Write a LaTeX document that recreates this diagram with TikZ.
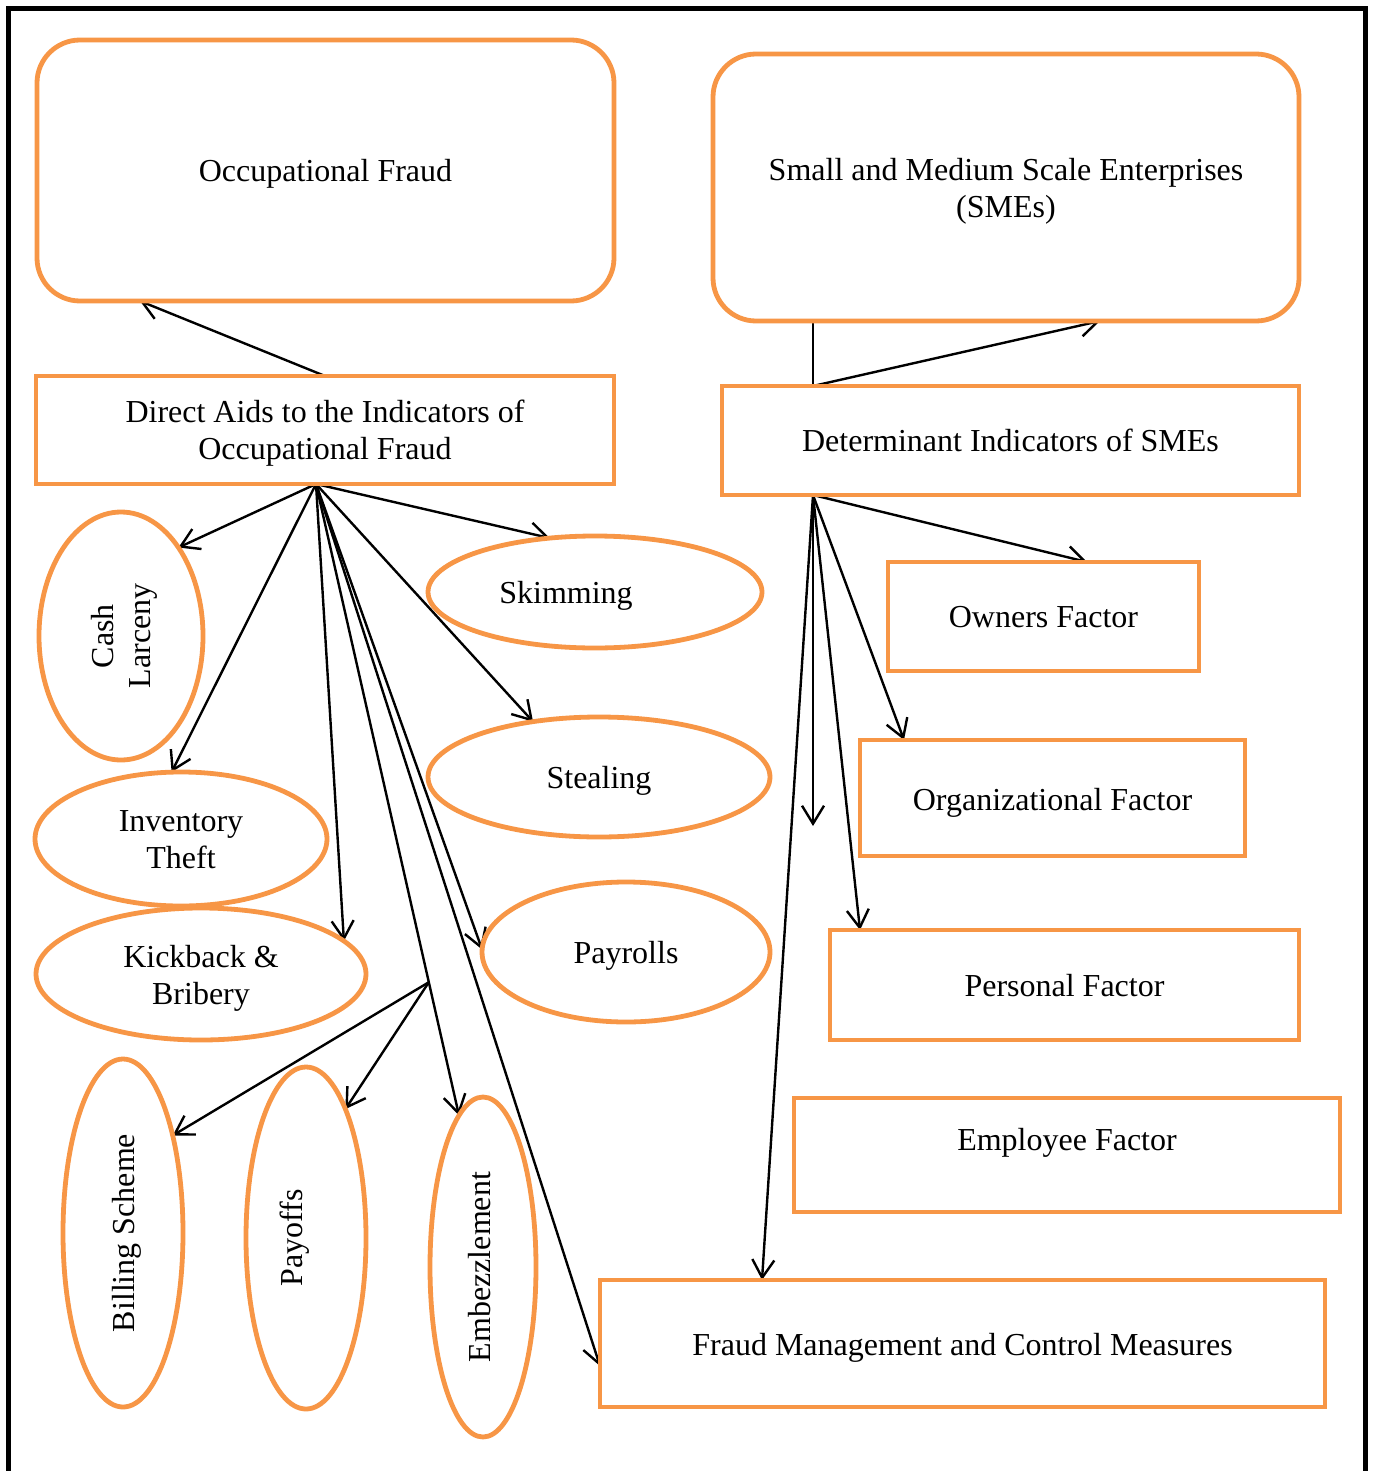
\documentclass[tikz,border=0pt]{standalone}
\usepackage{fontspec}
\setmainfont{Liberation Serif}
\usetikzlibrary{shapes.geometric,arrows.meta,calc}
\definecolor{frorange}{HTML}{F79646}
\pgfdeclarelayer{bg}
\pgfsetlayers{bg,main}
\newcommand\tx[2][-2pt]{\raisebox{#1}[\height][\depth]{\begin{tabular}{@{}c@{}}#2\end{tabular}}}
\begin{document}
\begin{tikzpicture}[x=0.5pt,y=-0.5pt,
  font=\fontsize{16}{18.5}\selectfont,
  box/.style={draw=frorange, line width=2.4pt, fill=white, rectangle, inner sep=2pt, outer sep=0pt},
  rbox/.style={box, rounded corners=21.5pt},
  ell/.style={draw=frorange, line width=2.4pt, fill=white, ellipse, inner sep=0pt, outer sep=0pt},
  arr/.style={draw=black, line width=1.2pt, -{Straight Barb[length=9pt,width=11pt]}},
  ln/.style={draw=black, line width=1.2pt}]
\useasboundingbox (0,0) rectangle (1372,1471);
% page frame
\draw[line width=2.5pt, line join=miter] (8,1471) -- (8,8.5) -- (1365.5,8.5) -- (1365.5,1471);

% top boxes
\node[rbox, minimum width=288.5pt, minimum height=130.5pt] (occ) at (325.5,170.5) {\tx{Occupational Fraud}};
\node[rbox, minimum width=293pt, minimum height=133.5pt] (sme) at (1006,187.5) {\tx{Small and Medium Scale Enterprises\\(SMEs)}};
\node[box, minimum width=289pt, minimum height=54pt] (direct) at (325,430) {\tx{Direct Aids to the Indicators of\\Occupational Fraud}};
\node[box, minimum width=288.5pt, minimum height=54.5pt] (det) at (1010.5,440.5) {\tx{Determinant Indicators of SMEs}};

% ellipses
\node[ell, minimum width=82pt, minimum height=124pt] (cash) at (121,636) {\rotatebox{90}{\tx{Cash\\Larceny}}};
\node[ell, minimum width=167pt, minimum height=56pt] (skim) at (595,592) {\tx{Skimming\hspace*{29pt}}};
\node[ell, minimum width=171pt, minimum height=60pt] (steal) at (599,777) {\tx{Stealing}};
\node[ell, minimum width=146pt, minimum height=67pt] (inv) at (181,839) {\tx{Inventory\\Theft}};
\node[ell, minimum width=165pt, minimum height=66pt] (kick) at (201,974) {\tx[-2.5pt]{Kickback \&\\Bribery}};
\node[ell, minimum width=144pt, minimum height=70pt] (pay) at (626,952) {\tx{Payrolls}};
\node[ell, minimum width=60pt, minimum height=174pt] (bill) at (123,1233) {\rotatebox{90}{\tx{Billing Scheme}}};
\node[ell, minimum width=60pt, minimum height=171pt] (payoffs) at (306,1238) {\rotatebox{90}{\tx[5.5pt]{Payoffs}}};
\node[ell, minimum width=53pt, minimum height=170pt] (emb) at (483,1267) {\rotatebox{90}{\tx[0pt]{Embezzlement}}};

% factor boxes
\node[box, minimum width=155.5pt, minimum height=54.5pt] (own) at (1043.5,616.5) {\tx{Owners Factor}};
\node[box, minimum width=192.5pt, minimum height=58pt] (org) at (1052.5,798) {\tx[-2.5pt]{Organizational Factor}};
\node[box, minimum width=234.5pt, minimum height=55pt] (pers) at (1064.5,985) {\tx{Personal Factor}};
\node[box, minimum width=273pt, minimum height=57pt] (emp) at (1067,1155) {\tx[6pt]{Employee Factor}};
\node[box, minimum width=362.5pt, minimum height=63.5pt] (fmc) at (962.5,1343.5) {\tx[-2.5pt]{Fraud Management and Control Measures}};

% connectors
\begin{pgfonlayer}{bg}
\draw[arr] (direct.north) -- ($(occ.south west)+(103,0)$);
\coordinate (dend) at (813,826);
\draw[ln] (sme.south -| dend) -- (det.north -| dend);
\draw[arr] (det.north -| dend) -- ($(sme.south west)+(387,0)$);

\coordinate (dhub) at ($(direct.south)+(-9,0)$);
\draw[arr] (dhub) -- (cash.57.3);
\draw[arr] (dhub) -- (skim.130.8);
\draw[arr] (dhub) -- (steal.140.9);
\draw[arr] (dhub) -- (inv.98.2);
\draw[arr] (dhub) -- (kick.13.6);
\draw[arr] (dhub) -- (pay.179.2);
\draw[arr] (dhub) -- (emb.99.05);
\draw[arr] (dhub) -- ($(fmc.north west)+(0,86)$);
\coordinate (br) at ($(dhub)!0.789!(emb.99.05)$);
\draw[arr] (br) -- (bill.63.9);
\draw[arr] (br) -- (payoffs.73.2);

\coordinate (thub) at (det.south -| dend);
\draw[arr] (thub) -- ($(own.north west)+(199,0)$);
\draw[arr] (thub) -- ($(org.north west)+(44,0)$);
\draw[arr] (thub) -- (dend);
\draw[arr] (thub) -- ($(pers.north west)+(30,0)$);
\draw[arr] (thub) -- ($(fmc.north west)+(162,0)$);
\end{pgfonlayer}
\end{tikzpicture}
\end{document}
